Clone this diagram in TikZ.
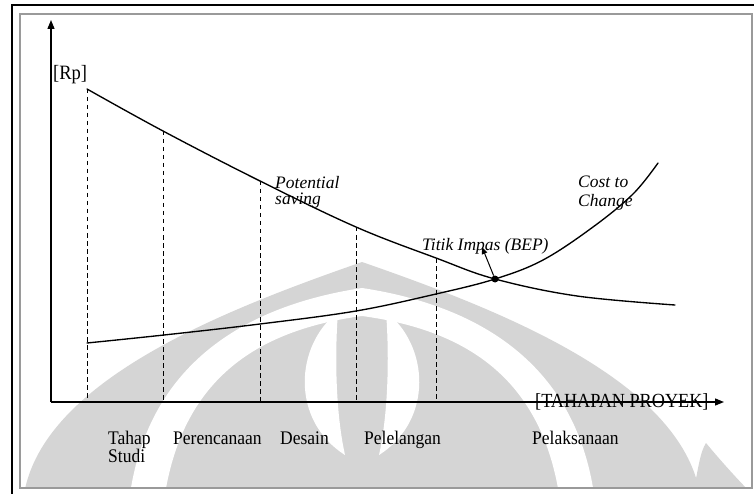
\documentclass[tikz,border=0pt]{standalone}
\usepackage{fontspec}
\usepackage{graphicx}
\setmainfont{Liberation Serif}
\usetikzlibrary{arrows.meta}
\definecolor{wm}{HTML}{D5D5D5}
\definecolor{rulegray}{HTML}{9A9A9A}
% upright labels are set slightly taller than the font's natural shape
\newcommand{\tallset}[1]{\scalebox{1}[1.1]{#1}}
\tikzset{
  cost/.style={line width=1.35pt, line join=round, line cap=round},
  guide/.style={line width=1pt, dash pattern=on 4.5pt off 3.5pt},
  axisline/.style={line width=1.3pt, -{Triangle[length=9pt,width=7pt]}},
  stage/.style={font=\fontsize{17.5}{17.5}\selectfont, inner sep=0pt, anchor=base west},
  note/.style={font=\fontsize{17.5}{17.5}\selectfont\itshape, inner sep=0pt, anchor=base west},
}
\begin{document}
\begin{tikzpicture}[x=1pt,y=-1pt]
\useasboundingbox (0,0) rectangle (754,494);
\fill[white] (0,0) rectangle (754,494);

% faint emblem in the background
\begin{scope}
  \clip (21,15) rectangle (751,487);
  % outer dome
  \fill[wm] (24,494) .. controls (44,380) and (224,310) .. (362,262)
            .. controls (500,310) and (680,380) .. (700,494) -- cycle;
  % light arch band inside the dome
  \fill[white] (130,494) .. controls (150,360) and (250,305) .. (362,288)
               .. controls (474,305) and (574,360) .. (594,494)
               -- (559,494) .. controls (540,378) and (466,330) .. (362,316)
               .. controls (258,330) and (184,378) .. (165,494) -- cycle;
  % two light petals beside the central spine
  \fill[white] (338,312) .. controls (295,345) and (290,420) .. (345,455)
               .. controls (335,410) and (335,350) .. (338,312) -- cycle;
  \fill[white] (386,312) .. controls (429,345) and (434,420) .. (379,455)
               .. controls (389,410) and (389,350) .. (386,312) -- cycle;
  % curl at the lower right
  \fill[wm] (693,494) .. controls (698,470) and (700,452) .. (706,443)
            .. controls (720,460) and (738,480) .. (752,494) -- cycle;
\end{scope}

% page frame
\draw[line width=2pt] (12.3,494) -- (12.3,4.7) -- (754,4.7);
\draw[rulegray, line width=1.1pt] (20,14) rectangle (752,488);

% axes
\coordinate (O) at (51,402);
\coordinate (ytip) at (51,20);
\coordinate (xtip) at (724,402);
\draw[axisline] (O) -- (ytip);
\draw[axisline] (O) -- (xtip);

% points on the potential-saving curve
\coordinate (u1) at (87,89);
\coordinate (u2) at (163,131);
\coordinate (u3) at (260,181);
\coordinate (u4) at (356,227);
\coordinate (u5) at (436,258);
\coordinate (u6) at (577,296);
\coordinate (u7) at (675,305);
% points on the cost-to-change curve
\coordinate (c1) at (87,343);
\coordinate (c2) at (164,335);
\coordinate (c3) at (260,324);
\coordinate (c4) at (356,311);
\coordinate (c5) at (436,294);
\coordinate (c6) at (543,260);
\coordinate (c7) at (593,227);
\coordinate (c8) at (633,194);
\coordinate (c9) at (658,163);
% feet of the stage boundaries
\coordinate (g1) at (87,402);
\coordinate (g2) at (163,402);
\coordinate (g3) at (260,402);
\coordinate (g4) at (356,402);
\coordinate (g5) at (436,402);

% stage boundaries
\foreach \i in {1,...,5} \draw[guide] (u\i) -- (g\i);

% break-even point
\node[circle, fill, inner sep=0pt, minimum size=7pt] (bep) at (495,279) {};

% curves
\draw[cost] plot[smooth, tension=0.6] coordinates {(u1) (u2) (u3) (u4) (u5) (bep.center) (u6) (u7)};
\draw[cost] plot[smooth, tension=0.6] coordinates {(c1) (c2) (c3) (c4) (c5) (bep.center) (c6) (c7) (c8) (c9)};

% pointer to the break-even label
\coordinate (ptr) at (482,247);
\draw[line width=1pt, -{Triangle[length=7pt,width=5.5pt]}] (bep) -- (ptr);

% axis labels
\node[stage, font=\fontsize{18.5}{18.5}\selectfont] (rp) at (53,80) {\tallset{[Rp]}};
\node[stage, font=\fontsize{18.2}{18.2}\selectfont] (tahapan) at (535,407) {\tallset{[TAHAPAN PROYEK]}};

% curve labels
\node[note] (pot1) at (275,189) {Potential};
\node[note] (pot2) at (275,205) {saving};
\node[note] (cost1) at (578,188) {Cost to};
\node[note] (cost2) at (578,207) {Change};
\node[note] (beplabel) at (422,250) {Titik Impas (BEP)};

% stage names
\node[stage] (s1a) at (108,444) {\tallset{Tahap}};
\node[stage] (s1b) at (108,462) {\tallset{Studi}};
\node[stage] (s2) at (173,444) {\tallset{Perencanaan}};
\node[stage] (s3) at (280,444) {\tallset{Desain}};
\node[stage] (s4) at (364,444) {\tallset{Pelelangan}};
\node[stage] (s5) at (532,444) {\tallset{Pelaksanaan}};
\end{tikzpicture}
\end{document}
